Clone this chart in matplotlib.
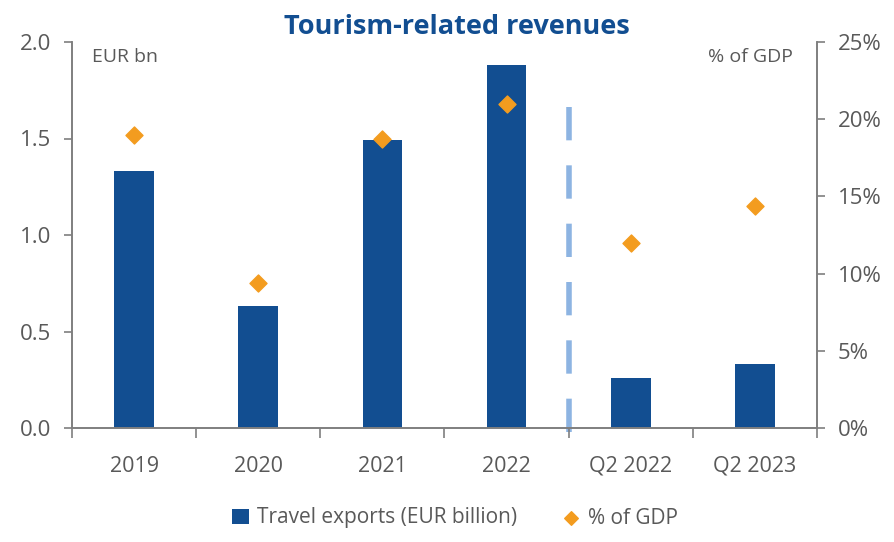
import numpy as np
import matplotlib.pyplot as plt

categories = ["2019", "2020", "2021", "2022", "Q2 2022", "Q2 2023"]
travel_exports = [1.33, 0.63, 1.49, 1.88, 0.26, 0.33]
pct_gdp = [19.0, 9.4, 18.7, 21.0, 12.0, 14.4]

plt.rcParams['font.family'] = ['Open Sans', 'DejaVu Sans']
grey = "#7f7f7f"
txt = "#595959"
blue = "#124e91"
orange = "#f39c1f"

fig = plt.figure(figsize=(8.95, 5.42), dpi=100)
ax = fig.add_axes([72/895, 1-428/542, (817-72)/895, (428-42)/542])
ax2 = ax.twinx()

x = np.arange(len(categories))
ax.bar(x, travel_exports, width=0.32, color=blue, label="Travel exports (EUR billion)", zorder=2)
ax2.scatter(x, pct_gdp, marker="D", s=75, color=orange, label="% of GDP", zorder=3)

ax.set_xlim(-0.5, len(categories) - 0.5)
ax.set_ylim(0, 2.0)
ax2.set_ylim(0, 25)
ax.set_yticks([0, 0.5, 1.0, 1.5, 2.0])
ax.set_yticklabels(["0.0", "0.5", "1.0", "1.5", "2.0"])
ax2.set_yticks([0, 5, 10, 15, 20, 25])
ax2.set_yticklabels([f"{v}%" for v in [0, 5, 10, 15, 20, 25]])

ax.set_xticks(x)
ax.set_xticklabels(categories)
ax.set_xticks(np.arange(-0.5, len(categories)), minor=True)
ax.tick_params(axis="x", which="major", length=0, pad=20, labelsize=15.5, labelcolor=txt)
ax.tick_params(axis="x", which="minor", length=7, width=1.2, color=grey, direction="out")
ax.tick_params(axis="y", length=6, width=1.2, color=grey, labelsize=16, labelcolor=txt, pad=9)
ax2.tick_params(axis="y", length=6, width=1.2, color=grey, labelsize=16, labelcolor=txt, pad=9)

for a in (ax, ax2):
    for s in a.spines.values():
        s.set_color(grey)
        s.set_linewidth(1.2)
    a.spines["top"].set_visible(False)

# separator between annual and quarterly data
ax.plot([3.5, 3.5], [-0.02, 1.75], color="#8db4e2", lw=4, dashes=(6, 4.5), clip_on=False, zorder=1)

ax.text(0.027, 0.985, "EUR bn", transform=ax.transAxes, ha="left", va="top", fontsize=14, color=txt)
ax2.text(0.967, 0.985, "% of GDP", transform=ax2.transAxes, ha="right", va="top", fontsize=14, color=txt)

fig.suptitle("Tourism-related revenues", x=457/895, y=1-27/542, va="center",
             fontsize=19.5, fontweight="bold", color="#124e91")

h1, l1 = ax.get_legend_handles_labels()
h2, l2 = ax2.get_legend_handles_labels()
fig.legend(h1 + h2, l1 + l2, loc="center", bbox_to_anchor=(455/895, 1-518/542), ncol=2,
           frameon=False, fontsize=15, labelcolor=txt, handlelength=0.8, handletextpad=0.4,
           columnspacing=2.2, markerscale=0.8)

fig.savefig("out.png", dpi=100)
